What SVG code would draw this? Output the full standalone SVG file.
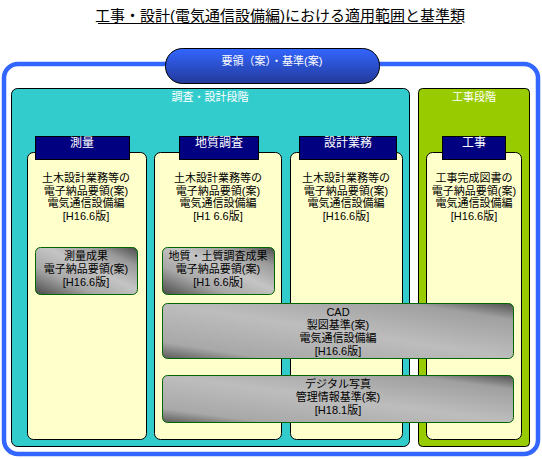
<svg xmlns="http://www.w3.org/2000/svg" width="542" height="459" viewBox="0 0 542 459">
<defs>
<linearGradient id="pillGrad" x1="0" y1="0" x2="0" y2="1">
<stop offset="0" stop-color="#3366FF"/>
<stop offset="1" stop-color="#22399A"/>
</linearGradient>
<linearGradient id="grayGrad" x1="0" y1="1" x2="1" y2="0">
<stop offset="0" stop-color="#4a4a4a"/>
<stop offset="0.3" stop-color="#a8a8a8"/>
<stop offset="0.55" stop-color="#c4c4c4"/>
<stop offset="0.8" stop-color="#9a9a9a"/>
<stop offset="1" stop-color="#4a4a4a"/>
</linearGradient>
<linearGradient id="grayGradWide" x1="0" y1="1" x2="1" y2="0">
<stop offset="0" stop-color="#5a5a5a"/>
<stop offset="0.15" stop-color="#a8a8a8"/>
<stop offset="0.5" stop-color="#bdbdbd"/>
<stop offset="0.85" stop-color="#a0a0a0"/>
<stop offset="1" stop-color="#505050"/>
</linearGradient>
</defs>
<style>
text{font-family:"Liberation Sans","Noto Sans CJK JP",sans-serif;text-anchor:middle;}
.t{font-size:11px;fill:#000;}
.w{font-size:11px;fill:#fff;}
.h{font-size:12px;fill:#fff;}
.col{fill:#FFFFCC;stroke:#000;stroke-width:1;}
.hdr{fill:#000080;stroke:#000;stroke-width:1;}
.gray{stroke:#006600;stroke-width:1;}
</style>
<rect width="542" height="459" fill="#fff"/>
<g id="title">
<text x="280" y="21" style="font-size:15px;" fill="#000">工事・設計(電気通信設備編)における適用範囲と基準類</text>
<line x1="98" y1="23.5" x2="462" y2="23.5" stroke="#000" stroke-width="1"/>
</g>
<g id="frame">
<rect x="4" y="64" width="534" height="390" rx="14" fill="none" stroke="#3366FF" stroke-width="4.5"/>
</g>
<g id="panel-survey-design">
<rect x="11.5" y="88.5" width="398" height="358" rx="6" fill="#33CCCC" stroke="#000"/>
<text class="w" x="210" y="101">調査・設計段階</text>
</g>
<g id="panel-construction">
<rect x="418.5" y="88.5" width="111" height="358" rx="4" fill="#99CC00" stroke="#000"/>
<text class="w" x="474" y="101">工事段階</text>
</g>
<g id="pill">
<rect x="165.5" y="48.5" width="214" height="35" rx="17" fill="url(#pillGrad)" stroke="#000"/>
<text class="w" x="272" y="65">要領（案）・基準(案)</text>
</g>
<g id="col-survey">
<rect class="col" x="27.5" y="152.5" width="119" height="287" rx="6"/>
<rect class="hdr" x="35.5" y="136.5" width="94" height="23"/>
<text class="h" x="82" y="147">測量</text>
<text class="t" x="86" y="182">土木設計業務等の</text>
<text class="t" x="86" y="194.5">電子納品要領(案)</text>
<text class="t" x="86" y="207">電気通信設備編</text>
<text class="t" x="86" y="219.5">[H16.6版]</text>
</g>
<g id="col-geo">
<rect class="col" x="154.5" y="152.5" width="127" height="287" rx="6"/>
<rect class="hdr" x="179.5" y="136.5" width="79" height="23"/>
<text class="h" x="219" y="147">地質調査</text>
<text class="t" x="218" y="182">土木設計業務等の</text>
<text class="t" x="218" y="194.5">電子納品要領(案)</text>
<text class="t" x="218" y="207">電気通信設備編</text>
<text class="t" x="218" y="219.5">[H1 6.6版]</text>
</g>
<g id="col-design">
<rect class="col" x="290.5" y="152.5" width="112" height="287" rx="6"/>
<rect class="hdr" x="299.5" y="136.5" width="97" height="23"/>
<text class="h" x="348" y="147">設計業務</text>
<text class="t" x="346" y="182">土木設計業務等の</text>
<text class="t" x="346" y="194.5">電子納品要領(案)</text>
<text class="t" x="346" y="207">電気通信設備編</text>
<text class="t" x="346" y="219.5">[H16.6版]</text>
</g>
<g id="col-construction">
<rect class="col" x="426.5" y="152.5" width="95" height="287" rx="6"/>
<rect class="hdr" x="442.5" y="136.5" width="63" height="23"/>
<text class="h" x="474" y="147">工事</text>
<text class="t" x="474" y="182">工事完成図書の</text>
<text class="t" x="474" y="194.5">電子納品要領(案)</text>
<text class="t" x="474" y="207">電気通信設備編</text>
<text class="t" x="474" y="219.5">[H16.6版]</text>
</g>
<g id="box-survey-result">
<rect class="gray" x="35.5" y="247.5" width="102" height="47" rx="5" fill="url(#grayGrad)"/>
<text class="t" x="86" y="260">測量成果</text>
<text class="t" x="86" y="273">電子納品要領(案)</text>
<text class="t" x="86" y="286">[H16.6版]</text>
</g>
<g id="box-geo-result">
<rect class="gray" x="162.5" y="247.5" width="112" height="47" rx="5" fill="url(#grayGrad)"/>
<text class="t" x="218" y="260">地質・土質調査成果</text>
<text class="t" x="218" y="273">電子納品要領(案)</text>
<text class="t" x="218" y="286">[H1 6.6版]</text>
</g>
<g id="box-cad">
<rect class="gray" x="162.5" y="303.5" width="351" height="55" rx="5" fill="url(#grayGradWide)"/>
<text class="t" x="338" y="316">CAD</text>
<text class="t" x="338" y="329">製図基準(案)</text>
<text class="t" x="338" y="342">電気通信設備編</text>
<text class="t" x="338" y="355">[H16.6版]</text>
</g>
<g id="box-photo">
<rect class="gray" x="162.5" y="375.5" width="351" height="47" rx="5" fill="url(#grayGradWide)"/>
<text class="t" x="338" y="388">デジタル写真</text>
<text class="t" x="338" y="401">管理情報基準(案)</text>
<text class="t" x="338" y="414">[H18.1版]</text>
</g>
<g id="connectors"/>
</svg>
